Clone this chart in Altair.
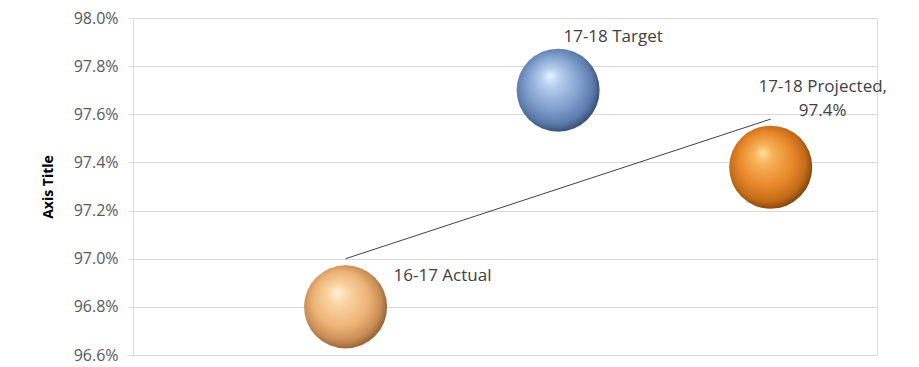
import altair as alt
import pandas as pd

categories = ["16-17 Actual", "17-18 Target", "17-18 Projected"]
x_pos = [1, 2, 3]
values = [0.968, 0.977, 0.9738]
labels = [["16-17 Actual"], ["17-18 Target"], ["17-18 Projected,", "97.4%"]]
y_ticks = [0.966, 0.968, 0.970, 0.972, 0.974, 0.976, 0.978, 0.980]

# connector line endpoints (data space)
line_x = [1, 3]
line_y = [0.970, 0.9758]

df = pd.DataFrame({"cat": categories, "x": x_pos, "y": values, "label": labels})
line_df = pd.DataFrame({"x": line_x, "y": line_y})

xs = alt.Scale(domain=[0, 3.5], nice=False, zero=False)
ys = alt.Scale(domain=[0.966, 0.980], nice=False, zero=False)

X = alt.X("x:Q", scale=xs, axis=alt.Axis(title=None, labels=False, ticks=False, grid=False,
                                          domain=True, domainColor="#d9d9d9"))
Y = alt.Y("y:Q", scale=ys, axis=alt.Axis(title="Axis Title", format=".1%", values=y_ticks,
                                          grid=True, gridColor="#d9d9d9", domainColor="#d9d9d9",
                                          tickColor="#d9d9d9", tickSize=5, labelColor="#595959",
                                          labelFontSize=16, labelFont="Open Sans", labelPadding=10,
                                          titleFont="Open Sans", titleFontSize=14, titleFontWeight="bold",
                                          titleColor="#000000", titlePadding=18))

def grad(hi, light, main, dark, edge):
    return {
        "gradient": "radial",
        "x1": 0.4, "y1": 0.32, "r1": 0.0,
        "x2": 0.47, "y2": 0.47, "r2": 0.55,
        "stops": [
            {"offset": 0.0, "color": hi},
            {"offset": 0.2, "color": light},
            {"offset": 0.6, "color": main},
            {"offset": 0.85, "color": dark},
            {"offset": 1.0, "color": edge},
        ],
    }

grads = [
    grad("#fff3df", "#fbd7a8", "#eeb477", "#c88c55", "#8f5d33"),
    grad("#e6f4ff", "#b7d0ee", "#7f9dcc", "#5a78a8", "#33496e"),
    grad("#ffe0a0", "#f8b45a", "#e8862a", "#c06a18", "#7c400c"),
]

base = alt.Chart(df)

line = alt.Chart(line_df).mark_line(color="#404040", strokeWidth=1).encode(x=X, y=Y)

bubbles = [
    base.transform_filter(alt.datum.cat == c).mark_circle(size=6900, opacity=1, fill=g)
    .encode(x=X, y=Y)
    for c, g in zip(categories, grads)
]

txt_kw = dict(font="Open Sans", fontSize=17, color="#404040", lineHeight=24)
t_actual = base.transform_filter(alt.datum.cat == categories[0]).mark_text(
    align="left", baseline="middle", dx=48, dy=-31, **txt_kw).encode(x=X, y=Y, text="label")
t_target = base.transform_filter(alt.datum.cat == categories[1]).mark_text(
    align="center", baseline="middle", dx=55, dy=-53, **txt_kw).encode(x=X, y=Y, text="label")
t_proj = base.transform_filter(alt.datum.cat == categories[2]).mark_text(
    align="center", baseline="middle", dx=52, dy=-80, **txt_kw).encode(x=X, y=Y, text="label")

chart = alt.layer(line, *bubbles, t_actual, t_target, t_proj).properties(
    width=744, height=337,
    autosize=alt.AutoSizeParams(type="none"),
    padding={"left": 133, "top": 18, "right": 42, "bottom": 12},
).configure_view(stroke=None).configure(background="white")

chart.save("out.html", embed_options={"renderer": "svg", "actions": False})
